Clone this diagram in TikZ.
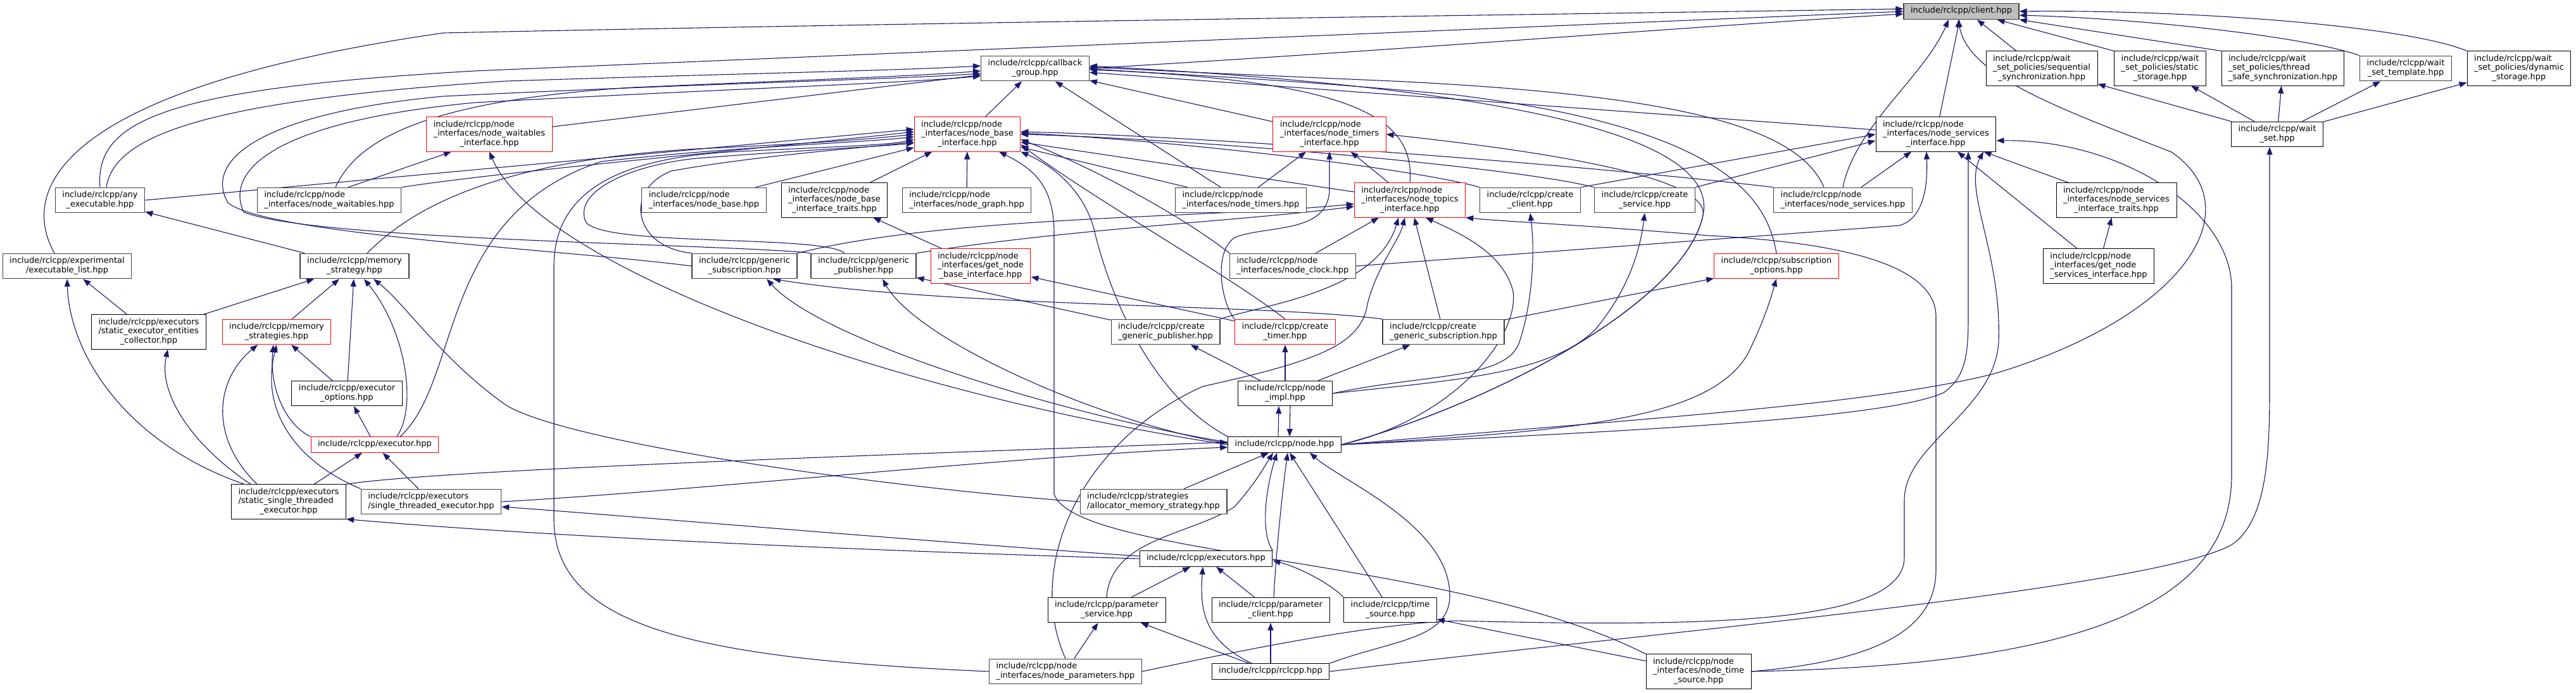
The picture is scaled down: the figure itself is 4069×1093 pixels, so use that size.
\documentclass[tikz,border=0pt]{standalone}
\usepackage{fontspec}
\setmainfont{DejaVu Sans}
\usetikzlibrary{arrows.meta}
\definecolor{edgeblue}{RGB}{25,25,112}
\definecolor{boxgray}{RGB}{64,64,64}
\definecolor{fillgray}{RGB}{191,191,191}
\pgfdeclarelayer{edges}
\pgfsetlayers{edges,main}
% label: leading lines flush left, last line centred
\newcommand{\flab}[2]{\begin{tabular}{@{}l@{}}#1\\\multicolumn{1}{@{}c@{}}{#2}\end{tabular}}
\newcommand{\olab}[1]{\begin{tabular}{@{}c@{}}#1\end{tabular}}

\begin{document}
\begin{tikzpicture}[
    x=1pt, y=-1pt,
    fb/.style={rectangle, draw=black, fill=white, line width=1pt,
        inner xsep=11pt, inner ysep=5pt,
        font=\fontsize{13}{14.7}\selectfont},
    gb/.style={fb, draw=boxgray, line width=1.4pt},
    rb/.style={fb, draw=red},
    cb/.style={gb, fill=fillgray},
    inc/.style={draw=edgeblue, line width=1.1pt,
        -{Triangle[length=12pt,width=9pt]}},
]
\useasboundingbox (0,0) rectangle (4069,1093);

% ===== TOP: client and wait set =====
\node[cb] (client)   at (3098,18)  {\olab{include/rclcpp/client.hpp}};
\node[fb] (seqsync)  at (3225,108) {\flab{include/rclcpp/wait\\\_set\_policies/sequential}{\_synchronization.hpp}};
\node[fb] (ststore)  at (3412,108) {\flab{include/rclcpp/wait\\\_set\_policies/static}{\_storage.hpp}};
\node[fb] (tssync)   at (3606,108) {\flab{include/rclcpp/wait\\\_set\_policies/thread}{\_safe\_synchronization.hpp}};
\node[gb] (wstmpl)   at (3800,108) {\flab{include/rclcpp/wait}{\_set\_template.hpp}};
\node[fb] (dynstore) at (3979,108) {\flab{include/rclcpp/wait\\\_set\_policies/dynamic}{\_storage.hpp}};
\node[fb] (waitset)  at (3597,212) {\flab{include/rclcpp/wait}{\_set.hpp}};

% ===== ROW 1-2: callback group and interfaces =====
\node[gb] (cbgroup)   at (1635,108) {\flab{include/rclcpp/callback}{\_group.hpp}};
\node[rb] (nwaitif)   at (773,212)  {\flab{include/rclcpp/node\\\_interfaces/node\_waitables}{\_interface.hpp}};
\node[rb] (nbaseif)   at (1528,212) {\flab{include/rclcpp/node\\\_interfaces/node\_base}{\_interface.hpp}};
\node[rb] (ntimersif) at (2100,212) {\flab{include/rclcpp/node\\\_interfaces/node\_timers}{\_interface.hpp}};
\node[fb] (nsvcif)    at (3058,212) {\flab{include/rclcpp/node\\\_interfaces/node\_services}{\_interface.hpp}};

% ===== ROW 3 =====
\node[gb] (anyexec)    at (158,316)  {\flab{include/rclcpp/any}{\_executable.hpp}};
\node[gb] (nwaits)     at (520,316)  {\flab{include/rclcpp/node}{\_interfaces/node\_waitables.hpp}};
\node[gb] (nbase)      at (1112,316) {\flab{include/rclcpp/node}{\_interfaces/node\_base.hpp}};
\node[fb] (nbtraits)   at (1318,316) {\flab{include/rclcpp/node\\\_interfaces/node\_base}{\_interface\_traits.hpp}};
\node[gb] (ngraph)     at (1527,316) {\flab{include/rclcpp/node}{\_interfaces/node\_graph.hpp}};
\node[gb] (ntimers)    at (1960,316) {\flab{include/rclcpp/node}{\_interfaces/node\_timers.hpp}};
\node[rb] (ntopicsif)  at (2227,316) {\flab{include/rclcpp/node\\\_interfaces/node\_topics}{\_interface.hpp}};
\node[gb] (crclient)   at (2417,316) {\flab{include/rclcpp/create}{\_client.hpp}};
\node[gb] (crservice)  at (2598,316) {\flab{include/rclcpp/create}{\_service.hpp}};
\node[gb] (nsvcs)      at (2911,316) {\flab{include/rclcpp/node}{\_interfaces/node\_services.hpp}};
\node[fb] (nsvctraits) at (3343,316) {\flab{include/rclcpp/node\\\_interfaces/node\_services}{\_interface\_traits.hpp}};

% ===== ROW 4 =====
\node[gb] (execlist) at (106,420)  {\flab{include/rclcpp/experimental}{/executable\_list.hpp}};
\node[gb] (memstrat) at (560,420)  {\flab{include/rclcpp/memory}{\_strategy.hpp}};
\node[gb] (gensub)   at (1176,420) {\flab{include/rclcpp/generic}{\_subscription.hpp}};
\node[gb] (genpub)   at (1364,420) {\flab{include/rclcpp/generic}{\_publisher.hpp}};
\node[rb] (getnbase) at (1549,420) {\flab{include/rclcpp/node\\\_interfaces/get\_node}{\_base\_interface.hpp}};
\node[gb] (nclock)   at (2042,420) {\flab{include/rclcpp/node}{\_interfaces/node\_clock.hpp}};
\node[rb] (subopts)  at (2806,420) {\flab{include/rclcpp/subscription}{\_options.hpp}};
\node[fb] (getnsvc)  at (3315,420) {\flab{include/rclcpp/node\\\_interfaces/get\_node}{\_services\_interface.hpp}};

% ===== ROW 5 =====
\node[fb] (secoll)    at (235,524)  {\flab{include/rclcpp/executors\\/static\_executor\_entities}{\_collector.hpp}};
\node[rb] (memstrats) at (437,524)  {\flab{include/rclcpp/memory}{\_strategies.hpp}};
\node[gb] (crgenpub)  at (1841,524) {\flab{include/rclcpp/create}{\_generic\_publisher.hpp}};
\node[rb] (crtimer)   at (2030,524) {\flab{include/rclcpp/create}{\_timer.hpp}};
\node[gb] (crgensub)  at (2280,524) {\flab{include/rclcpp/create}{\_generic\_subscription.hpp}};

% ===== ROW 6-7 =====
\node[fb] (execopts) at (548,621)  {\flab{include/rclcpp/executor}{\_options.hpp}};
\node[fb] (nodeimpl) at (2030,621) {\flab{include/rclcpp/node}{\_impl.hpp}};
\node[rb] (executor) at (592,702)  {\olab{include/rclcpp/executor.hpp}};
\node[fb] (node)     at (2029,702) {\olab{include/rclcpp/node.hpp}};

% ===== BOTTOM =====
\node[fb] (ssexec)    at (456,792)  {\flab{include/rclcpp/executors\\/static\_single\_threaded}{\_executor.hpp}};
\node[gb] (stexec)    at (681,792)  {\flab{include/rclcpp/executors}{/single\_threaded\_executor.hpp}};
\node[gb] (allocms)   at (1822,792) {\flab{include/rclcpp/strategies}{/allocator\_memory\_strategy.hpp}};
\node[fb] (executors) at (1905,882) {\olab{include/rclcpp/executors.hpp}};
\node[fb] (parsvc)    at (1748,963) {\flab{include/rclcpp/parameter}{\_service.hpp}};
\node[fb] (parcli)    at (2007,963) {\flab{include/rclcpp/parameter}{\_client.hpp}};
\node[fb] (timesrc)   at (2196,963) {\flab{include/rclcpp/time}{\_source.hpp}};
\node[gb] (nparams)   at (1683,1060) {\flab{include/rclcpp/node}{\_interfaces/node\_parameters.hpp}};
\node[fb] (rclcpp)    at (2007,1060) {\olab{include/rclcpp/rclcpp.hpp}};
\node[fb] (ntimesrc)  at (2683,1060) {\flab{include/rclcpp/node\\\_interfaces/node\_time}{\_source.hpp}};

\begin{pgfonlayer}{edges}
% straight includes
\foreach \a/\b in {nsvcif/client,
    waitset/seqsync, waitset/ststore, waitset/tssync, waitset/wstmpl, waitset/dynstore,
    nbaseif/cbgroup, ntimers/cbgroup, ntimersif/cbgroup, nwaitif/cbgroup, nsvcif/cbgroup,
    nbase/nbaseif, nbtraits/nbaseif, ngraph/nbaseif, ntimers/nbaseif, ntopicsif/nbaseif,
    ntimers/ntimersif, ntopicsif/ntimersif,
    getnbase/nbtraits, crtimer/getnbase, memstrat/anyexec,
    secoll/execlist, secoll/memstrat, memstrats/memstrat, execopts/memstrats,
    executor/execopts, execopts/memstrat, stexec/executor,
    nsvctraits/nsvcif, getnsvc/nsvctraits, getnsvc/nsvcif, nsvcs/nsvcif,
    nclock/ntopicsif, crgensub/ntopicsif, crgensub/subopts, crgenpub/genpub,
    nodeimpl/crgenpub, nodeimpl/crtimer, nodeimpl/crgensub,
    parsvc/executors, parcli/executors, timesrc/node,
    rclcpp/parcli, rclcpp/parsvc, nparams/parsvc, ntimesrc/timesrc}
    \draw[inc] (\a) -- (\b);

% client.hpp
\draw[inc] ([xshift=-40pt]seqsync.north) -- ([xshift=25pt]client.south);
\draw[inc] (ststore.north west) -- ([xshift=-35pt]client.south east);
\draw[inc] (tssync.north west) -- (client.south east);
\draw[inc] (wstmpl.north west) .. controls (3650,60) and (3400,30) .. ([yshift=-6pt]client.east);
\draw[inc] (dynstore.north west) .. controls (3800,40) and (3450,15) .. (client.east);
\draw[inc] (cbgroup.east) .. controls (2200,80) and (2700,40) .. ([yshift=-4pt]client.west);
\draw[inc] ([xshift=-20pt]execlist.north) .. controls (30,300) and (90,140) .. (700,52)
    .. controls (1500,35) and (2500,22) .. ([yshift=4pt]client.west);
\draw[inc] (anyexec.north) .. controls (150,190) and (260,140) .. (750,112)
    .. controls (1500,80) and (2600,35) .. (client.west);
\draw[inc] (nsvcs.north) .. controls (2930,200) and (3040,120) .. ([xshift=-20pt]client.south);
\draw[inc] (node.east) .. controls (2600,660) and (2950,640) .. (3150,590)
    .. controls (3450,500) and (3560,330) .. (3430,240)
    .. controls (3250,170) and (3110,120) .. ([xshift=-5pt]client.south);

% callback_group.hpp
\draw[inc] ([xshift=10pt]anyexec.north) .. controls (180,220) and (300,160) .. (800,128)
    .. controls (1200,115) and (1400,112) .. ([yshift=4pt]cbgroup.west);
\draw[inc] ([xshift=10pt]nwaits.north) .. controls (560,230) and (650,160) .. (1000,138)
    .. controls (1300,125) and (1450,120) .. ([yshift=-4pt]cbgroup.west);
\draw[inc] (gensub.west) .. controls (900,395) and (420,370) .. (360,320)
    .. controls (320,250) and (420,178) .. (700,152)
    .. controls (1100,132) and (1400,126) .. ([yshift=-8pt]cbgroup.west);
\draw[inc] (genpub.north west) .. controls (1150,385) and (500,380) .. (385,335)
    .. controls (355,270) and (430,192) .. (750,162)
    .. controls (1150,140) and (1420,132) .. ([yshift=-12pt]cbgroup.west);
\draw[inc] (node.east) .. controls (2350,640) and (2660,480) .. (2690,340)
    .. controls (2720,200) and (2300,135) .. ([yshift=4pt]cbgroup.east);
\draw[inc] (ntopicsif.north) .. controls (2235,190) and (2150,128) .. ([yshift=-2pt]cbgroup.east);
\draw[inc] (subopts.north) .. controls (2790,300) and (2700,200) .. (2300,150)
    .. controls (2000,122) and (1800,115) .. (cbgroup.east);
\draw[inc] ([xshift=-30pt]nsvcs.north) .. controls (2840,200) and (2650,150) .. (2200,128)
    .. controls (1900,115) and (1800,110) .. ([yshift=2pt]cbgroup.east);

% node_base_interface.hpp
\draw[inc] (anyexec.east) -- ([yshift=8pt]nbaseif.west);
\draw[inc] (nwaits.north east) .. controls (800,270) and (1200,235) .. ([yshift=4pt]nbaseif.west);
\draw[inc] ([xshift=20pt]memstrat.north) .. controls (640,340) and (760,255) .. (1100,235)
    .. controls (1250,228) and (1350,222) .. (nbaseif.west);
\draw[inc] ([xshift=40pt]executor.north) .. controls (730,600) and (690,340) .. (950,255)
    .. controls (1150,232) and (1350,226) .. ([yshift=-4pt]nbaseif.west);
\draw[inc] (nparams.west) .. controls (1100,1040) and (875,990) .. (875,820) -- (875,420)
    .. controls (875,290) and (1000,250) .. (1150,240)
    .. controls (1300,232) and (1400,230) .. ([yshift=-8pt]nbaseif.west);
\draw[inc] (gensub.north west) .. controls (1000,390) and (985,300) .. (1060,270)
    .. controls (1200,245) and (1350,235) .. ([yshift=-12pt]nbaseif.west);
\draw[inc] ([xshift=-30pt]genpub.north) .. controls (1300,370) and (950,390) .. (925,350)
    .. controls (905,300) and (1000,260) .. (1100,250)
    .. controls (1250,238) and (1380,232) .. ([yshift=-14pt]nbaseif.west);
\draw[inc] (crclient.north west) .. controls (2250,270) and (1900,225) .. ([yshift=2pt]nbaseif.east);
\draw[inc] (crservice.north west) .. controls (2400,265) and (1900,220) .. (nbaseif.east);
\draw[inc] (nsvcs.north west) .. controls (2500,260) and (1900,215) .. ([yshift=4pt]nbaseif.east);
\draw[inc] (nclock.north west) .. controls (1880,350) and (1740,270) .. ([yshift=-8pt]nbaseif.east);
\draw[inc] (crtimer.north) .. controls (1950,440) and (1720,310) .. ([yshift=-16pt]nbaseif.east);
\draw[inc] (node.north west) .. controls (1810,620) and (1750,450) .. (1730,370)
    .. controls (1715,300) and (1660,260) .. (nbaseif.south east);
\draw[inc] (ntimesrc.north west) .. controls (2300,880) and (1700,880) .. (1665,780) -- (1665,370)
    .. controls (1665,300) and (1640,270) .. ([xshift=50pt]nbaseif.south);

% node_services_interface.hpp
\draw[inc] (crclient.north east) -- (nsvcif.west);
\draw[inc] (crservice.north east) -- ([yshift=-10pt]nsvcif.west);
\draw[inc] (nclock.east) -- (3000,356) .. controls (3040,345) and (3045,290) .. ([xshift=-15pt]nsvcif.south);
\draw[inc] (node.east) .. controls (2600,680) and (2980,660) .. (3070,620)
    .. controls (3105,595) and (3109,560) .. (3109,500) -- ([xshift=51pt]nsvcif.south);
\draw[inc] (nparams.east) .. controls (1900,1040) and (2150,985) .. (2300,980)
    .. controls (2700,990) and (3008,985) .. (3008,880) -- (3008,790)
    .. controls (3008,700) and (3150,650) .. (3157,540)
    .. controls (3162,400) and (3100,300) .. ([xshift=75pt]nsvcif.south);
\draw[inc] (ntimesrc.east) .. controls (3300,1050) and (3525,950) .. (3525,750) -- (3525,450)
    .. controls (3520,330) and (3350,220) .. ([yshift=-10pt]nsvcif.east);

% node_topics_interface.hpp
\draw[inc] (gensub.north east) .. controls (1500,340) and (1900,345) .. ([yshift=-6pt]ntopicsif.west);
\draw[inc] (genpub.north east) .. controls (1700,360) and (1950,350) .. ([yshift=-10pt]ntopicsif.west);
\draw[inc] (nparams.north) .. controls (1620,900) and (1700,700) .. (1900,610)
    .. controls (2080,570) and (2150,545) .. (2160,480)
    .. controls (2175,420) and (2210,380) .. ([xshift=-8pt]ntopicsif.south);
\draw[inc] (node.east) .. controls (2300,660) and (2400,530) .. (2390,460)
    .. controls (2375,400) and (2310,370) .. ([xshift=25pt]ntopicsif.south);
\draw[inc] (crgenpub.north east) .. controls (2000,480) and (2175,460) .. ([xshift=-18pt]ntopicsif.south);
\draw[inc] (ntimesrc.east) .. controls (2950,1045) and (3058,1000) .. (3058,900) -- (3058,500)
    .. controls (3058,430) and (2950,385) .. (2700,372)
    .. controls (2500,355) and (2380,350) .. (ntopicsif.south east);

% node_timers_interface.hpp
\draw[inc] (crtimer.north west) .. controls (1930,480) and (1915,400) .. (1950,375)
    .. controls (2000,355) and (2098,370) .. (2100,300) -- (ntimersif.south);
\draw[inc] (node.east) .. controls (2350,640) and (2660,480) .. (2690,340)
    .. controls (2700,280) and (2450,240) .. (ntimersif.east);

% node_waitables_interface.hpp, generic, subscription options
\draw[inc] ([xshift=30pt]nwaits.north) -- ([xshift=-60pt]nwaitif.south);
\draw[inc] (node.west) .. controls (1400,620) and (850,420) .. (nwaitif.south);
\draw[inc] ([yshift=4pt]node.west) .. controls (1700,660) and (1300,540) .. ([xshift=35pt]gensub.south);
\draw[inc] ([yshift=2pt]node.west) .. controls (1750,670) and (1450,540) .. ([xshift=30pt]genpub.south);
\draw[inc] (crgensub.north west) .. controls (2000,480) and (1500,485) .. ([xshift=45pt]gensub.south);
\draw[inc] (node.east) .. controls (2500,680) and (2700,660) .. (2760,560)
    .. controls (2790,500) and (2800,460) .. (subopts.south);

% node.hpp and node_impl.hpp
\draw[inc] ([xshift=-10pt]node.north) -- ([xshift=-10pt]nodeimpl.south);
\draw[inc] ([xshift=8pt]nodeimpl.south) -- ([xshift=8pt]node.north);
\draw[inc] (nodeimpl.east) .. controls (2250,590) and (2380,600) .. (2400,540)
    .. controls (2420,480) and (2425,400) .. (crclient.south);
\draw[inc] (nodeimpl.east) .. controls (2300,600) and (2450,590) .. (2520,520)
    .. controls (2570,460) and (2590,400) .. (crservice.south);

% executors and memory strategies
\draw[inc] (allocms.west) .. controls (1400,770) and (900,700) .. (800,640)
    .. controls (700,570) and (640,480) .. ([xshift=30pt]memstrat.south);
\draw[inc] ([xshift=35pt]executor.north) .. controls (660,640) and (640,520) .. ([xshift=15pt]memstrat.south);
\draw[inc] (executor.north west) .. controls (450,670) and (425,610) .. ([xshift=-5pt]memstrats.south);
\draw[inc] (stexec.north west) .. controls (470,730) and (410,650) .. (memstrats.south);
\draw[inc] ([xshift=-50pt]ssexec.north) .. controls (330,690) and (340,600) .. ([xshift=-30pt]memstrats.south);
\draw[inc] ([xshift=-60pt]ssexec.north) .. controls (300,700) and (250,620) .. ([xshift=30pt]secoll.south);
\draw[inc] ([xshift=-70pt]ssexec.north) .. controls (200,700) and (110,560) .. (execlist.south);
\draw[inc] ([xshift=40pt]ssexec.north) -- ([xshift=-20pt]executor.south);
\draw[inc] (ssexec.north east) .. controls (700,740) and (1500,715) .. ([yshift=4pt]node.west);
\draw[inc] (stexec.east) .. controls (1100,775) and (1600,720) .. ([yshift=-4pt]node.west);
\draw[inc] (executors.west) .. controls (1400,870) and (900,850) .. (ssexec.south east);
\draw[inc] ([yshift=4pt]executors.west) .. controls (1400,850) and (1000,815) .. ([yshift=-8pt]stexec.east);
\draw[inc] (executors.north east) .. controls (1990,840) and (2000,770) .. ([xshift=-12pt]node.south);
\draw[inc] ([xshift=48pt]allocms.north) -- ([xshift=-25pt]node.south);
\draw[inc] (parsvc.north) .. controls (1755,850) and (1880,845) .. (1950,800)
    .. controls (1985,760) and (1995,740) .. ([xshift=-18pt]node.south);
\draw[inc] ([xshift=5pt]parcli.north) .. controls (2015,880) and (2025,780) .. ([xshift=5pt]node.south);
\draw[inc] (timesrc.north west) .. controls (2100,920) and (2050,895) .. ([yshift=-3pt]executors.east);
\draw[inc] (rclcpp.north east) .. controls (2200,1010) and (2290,1010) .. (2290,940)
    .. controls (2290,830) and (2120,760) .. ([xshift=40pt]node.south);
\draw[inc] ([xshift=-30pt]rclcpp.north) .. controls (1900,1010) and (1895,960) .. ([xshift=-5pt]executors.south);
\draw[inc] (rclcpp.east) .. controls (2600,1000) and (3400,930) .. (3525,860)
    .. controls (3585,820) and (3585,700) .. (3585,600) -- ([xshift=-12pt]waitset.south);
\end{pgfonlayer}

\end{tikzpicture}
\end{document}
